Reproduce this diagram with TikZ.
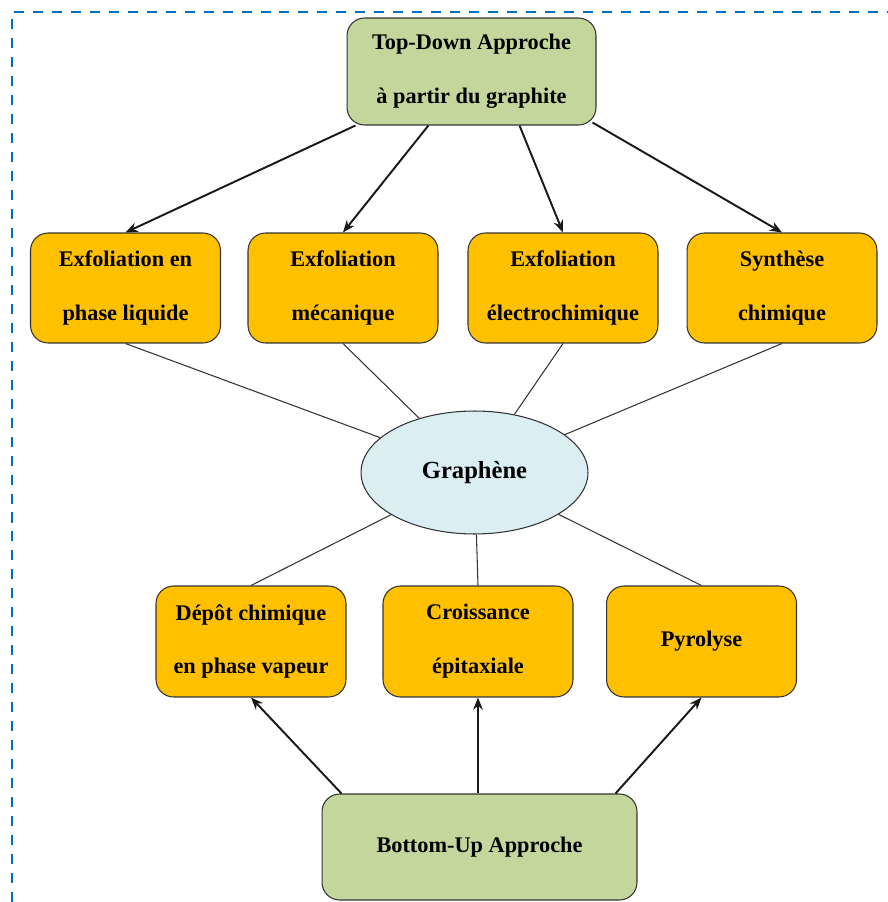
\documentclass[tikz,border=0pt]{standalone}
\usepackage{fontspec}
\setmainfont{Liberation Serif}
\usetikzlibrary{calc,shapes.geometric,arrows.meta}

\definecolor{orangeboite}{HTML}{FFC000}
\definecolor{vertboite}{HTML}{C3D69B}
\definecolor{bleuellipse}{HTML}{DAEEF3}
\definecolor{bleucadre}{HTML}{0070C0}

\begin{document}
\begin{tikzpicture}[x=0.02cm,y=-0.02cm,
  boite/.style={draw=black!80,line width=0.6pt,rounded corners=10pt,fill=orangeboite,
    minimum width=\boiteL,minimum height=\boiteH,inner sep=0pt,align=center,
    font=\fontsize{12.7}{30.6}\selectfont\bfseries},
  approche/.style={boite,fill=vertboite},
  fleche/.style={-{Stealth[length=7pt,width=5.5pt]},line width=1.1pt,draw=black!90},
  lien/.style={line width=0.6pt,draw=black!80}]
  \newlength{\boiteL}
  \newlength{\boiteH}
  \setlength{\boiteL}{3.8cm}
  \setlength{\boiteH}{2.2cm}

  \useasboundingbox (0,0) rectangle (888,902);
  % cadre pointille
  \draw[bleucadre,line width=1.4pt,dash pattern=on 5.7pt off 5.1pt]
    (12,902) -- (12,12) -- (888,12);

  % approches
  \node[approche,minimum width=4.98cm,minimum height=2.14cm] (top) at (471.5,71.5)
    {Top-Down Approche\\à partir du graphite};
  \node[approche,minimum width=6.3cm,minimum height=2.12cm] (bot) at (479.5,847)
    {\raisebox{-2pt}{Bottom-Up Approche}};

  % methodes top-down
  \node[boite] (liq) at (125.5,288) {Exfoliation en\\phase liquide};
  \node[boite] (meca) at (343,288) {Exfoliation\\mécanique};
  \node[boite] (elec) at (563,288) {Exfoliation\\électrochimique};
  \node[boite] (synth) at (782,288) {Synthèse\\chimique};

  % graphene
  \node[ellipse,draw=black!80,line width=0.6pt,fill=bleuellipse,minimum width=4.54cm,
    minimum height=2.46cm,inner sep=0pt,font=\fontsize{14}{17}\selectfont\bfseries]
    (graph) at (474.5,472.5) {Graphène};

  % methodes bottom-up
  \node[boite,minimum height=2.22cm] (cvd) at (251,641.5) {Dépôt chimique\\en phase vapeur};
  \node[boite,minimum height=2.22cm] (epi) at (478,641.5) {Croissance\\épitaxiale};
  \node[boite,minimum height=2.22cm] (pyro) at (701.5,641.5) {Pyrolyse};

  % fleches
  \draw[fleche] (top) -- (liq.north);
  \draw[fleche] (top) -- (meca.north);
  \draw[fleche] ($(top.south)+(48,0)$) -- (elec.north);
  \draw[fleche] ($(top.south east)+(-4,-3)$) -- (synth.north);
  \draw[fleche] ($(bot.north west)+(20,0)$) -- (cvd.south);
  \draw[fleche] (epi.south |- bot.north) -- (epi.south);
  \draw[fleche] ($(bot.north east)+(-22,0)$) -- (pyro.south);

  % liens vers le graphene
  \foreach \m in {liq,meca,elec,synth}
    \draw[lien] (\m.south) -- (graph);
  \foreach \m in {cvd,epi,pyro}
    \draw[lien] (\m.north) -- (graph);
\end{tikzpicture}
\end{document}
